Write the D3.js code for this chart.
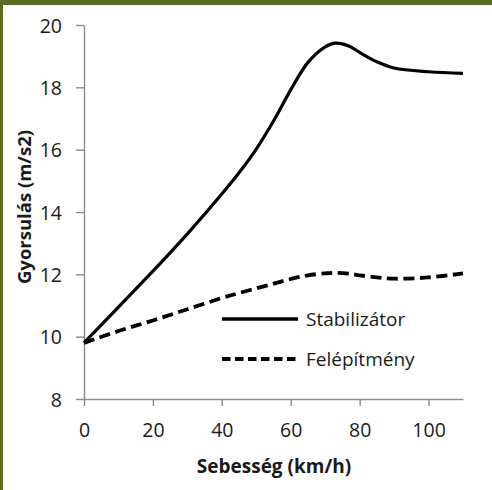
<!DOCTYPE html>
<html>
<head>
<meta charset="utf-8">
<script src="https://cdn.jsdelivr.net/npm/d3@7/dist/d3.min.js"></script>
<style>
  html, body { margin: 0; padding: 0; background: #fff; }
  svg { display: block; }
  text { font-family: "Open Sans", "Noto Sans", sans-serif; fill: #1a1a1a; }
</style>
</head>
<body>
<svg id="chart" width="492" height="490"></svg>
<script>
// Data
const speeds = [0, 10, 20, 30, 40, 45, 50, 55, 60, 65, 70, 73, 77, 80, 85, 90, 100, 110];
const stabilizator = [9.8, 10.95, 12.1, 13.3, 14.58, 15.26, 16.02, 16.92, 17.92, 18.8, 19.3, 19.42, 19.32, 19.12, 18.82, 18.62, 18.5, 18.45];
const felepitmeny = [9.8, 10.18, 10.52, 10.88, 11.24, 11.4, 11.55, 11.7, 11.85, 11.97, 12.03, 12.05, 12.02, 11.97, 11.9, 11.86, 11.9, 12.03];
const xTicks = [0, 20, 40, 60, 80, 100];
const yTicks = [8, 10, 12, 14, 16, 18, 20];
const seriesNames = ["Stabilizátor", "Felépítmény"];
const xTitle = "Sebesség (km/h)";
const yTitle = "Gyorsulás (m/s2)";

const svg = d3.select("#chart");
const green = "#5a6b22";
const axisColor = "#8a8a8a";

// frame
svg.append("rect").attr("x", 0).attr("y", 0).attr("width", 492).attr("height", 5).attr("fill", green);
svg.append("rect").attr("x", 0).attr("y", 0).attr("width", 3).attr("height", 490).attr("fill", green);

const x = d3.scaleLinear().domain([0, 110]).range([84, 463]);
const y = d3.scaleLinear().domain([8, 20]).range([399, 25]);

// axes
const gx = svg.append("g").attr("transform", `translate(0,${y(8)})`)
  .call(d3.axisBottom(x).tickValues(xTicks).tickSize(7).tickSizeOuter(0).tickPadding(17));
const gy = svg.append("g").attr("transform", `translate(${x(0)},0)`)
  .call(d3.axisLeft(y).tickValues(yTicks).tickSize(8).tickSizeOuter(0).tickPadding(14));
[gx, gy].forEach(g => {
  g.select(".domain").attr("stroke", axisColor).attr("stroke-width", 1.4);
  g.selectAll(".tick line").attr("stroke", axisColor).attr("stroke-width", 1.4);
  g.selectAll(".tick text").attr("font-size", 19.5).attr("fill", "#1a1a1a")
    .style("font-family", '"Open Sans", sans-serif');
});
gy.selectAll(".tick text").attr("dy", "0.36em");

// lines
const line = d3.line().curve(d3.curveCatmullRom.alpha(0.5));
const stabPts = speeds.map((s, i) => [x(s), y(stabilizator[i])]);
const felPts = speeds.map((s, i) => [x(s), y(felepitmeny[i])]);

svg.append("path").attr("d", line(felPts)).attr("fill", "none")
  .attr("stroke", "#000").attr("stroke-width", 3.8).attr("stroke-dasharray", "11,5.5");
svg.append("path").attr("d", line(stabPts)).attr("fill", "none")
  .attr("stroke", "#000").attr("stroke-width", 3.2);

// legend
const legY = [319, 359];
const dashes = [null, "8.5,4.5"];
legY.forEach((ly, i) => {
  const l = svg.append("line").attr("x1", 222).attr("x2", 298).attr("y1", ly).attr("y2", ly)
    .attr("stroke", "#000").attr("stroke-width", i === 0 ? 3.4 : 3.8);
  if (dashes[i]) l.attr("stroke-dasharray", dashes[i]);
  svg.append("text").attr("x", 306).attr("y", ly).attr("dy", "0.36em")
    .attr("font-size", 19).text(seriesNames[i]);
});

// titles
svg.append("text").attr("x", 274).attr("y", 466).attr("dy", "0.36em")
  .attr("text-anchor", "middle").attr("font-size", 19).attr("font-weight", "bold").text(xTitle);
svg.append("text").attr("transform", "translate(24,207) rotate(-90)").attr("dy", "0.36em")
  .attr("text-anchor", "middle").attr("font-size", 18.5).attr("font-weight", "bold").text(yTitle);
</script>
</body>
</html>
